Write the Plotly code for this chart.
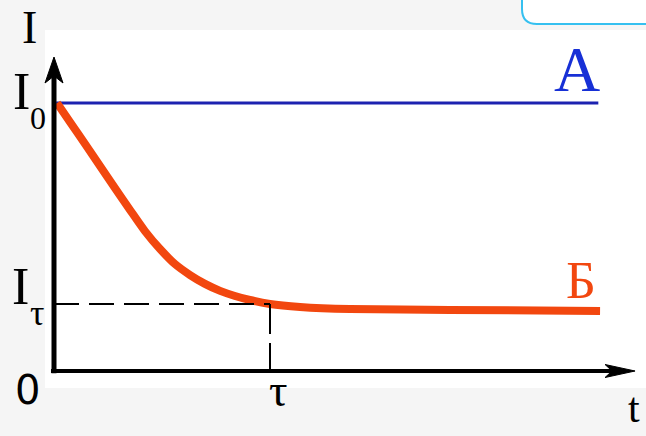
import plotly.graph_objects as go

# Current through the two circuit elements versus time (units of I0 and tau)
t_const = [0.01, 2.52]
i_const = [1.0, 1.0]

t_decay = [0.014, 0.074, 0.144, 0.213, 0.282, 0.352, 0.421, 0.491, 0.560, 0.630,
           0.699, 0.769, 0.838, 0.907, 1.000, 1.139, 1.370, 1.833, 2.528]
i_decay = [1.000, 0.929, 0.847, 0.765, 0.683, 0.601, 0.522, 0.455, 0.399, 0.358,
           0.325, 0.299, 0.280, 0.265, 0.250, 0.239, 0.231, 0.228, 0.224]

I0 = 1.0
TAU = 1.0
I_TAU = 0.25

# axis extents of the drawn arrows (data units)
T_MAX = 2.69
I_MAX = 1.1716

BLUE = "#1c22b0"
BLUE_TXT = "#1730d6"
RED = "#f2470f"
SERIF = "Liberation Serif, DejaVu Serif, serif"

fig = go.Figure()

fig.add_trace(go.Scatter(x=t_const, y=i_const, mode="lines",
                         line=dict(color=BLUE, width=3), hoverinfo="skip"))
fig.add_trace(go.Scatter(x=t_decay, y=i_decay, mode="lines",
                         line=dict(color=RED, width=8, shape="spline", smoothing=0.6),
                         hoverinfo="skip"))

shapes = []
# white drawing area
shapes.append(dict(type="rect", xref="paper", yref="paper",
                   x0=45 / 646, x1=1.0, y0=1 - 388 / 436, y1=1 - 30 / 436,
                   fillcolor="white", line=dict(width=0), layer="below"))
# rounded box in the top right corner
bx, by, rx, ry = 522 / 646, 1 - 24 / 436, 15 / 646, 15 / 436
shapes.append(dict(type="path", xref="paper", yref="paper",
                   path=(f"M {bx},1.05 L {bx},{by + ry} Q {bx},{by} {bx + rx},{by} "
                         f"L 1.05,{by} L 1.05,1.05 Z"),
                   fillcolor="white", line=dict(color="#35c0f0", width=2), layer="below"))
# axes
shapes.append(dict(type="line", xref="x", yref="y", x0=0, x1=0, y0=-0.008, y1=I_MAX - 0.07,
                   line=dict(color="black", width=5)))
shapes.append(dict(type="line", xref="x", yref="y", x0=-0.014, x1=T_MAX - 0.11, y0=0, y1=0,
                   line=dict(color="black", width=4)))
# arrowheads (pixel sized, anchored at the tips)
shapes.append(dict(type="path", xref="x", yref="y", xsizemode="pixel", ysizemode="pixel",
                   xanchor=0, yanchor=I_MAX,
                   path="M 0,0 L -9,-26 L 0,-19 L 9,-26 Z",
                   fillcolor="black", line=dict(color="black", width=1)))
shapes.append(dict(type="path", xref="x", yref="y", xsizemode="pixel", ysizemode="pixel",
                   xanchor=T_MAX, yanchor=0,
                   path="M 0,0 L -30,-6.5 L -23,0 L -30,6.5 Z",
                   fillcolor="black", line=dict(color="black", width=1)))
# guide lines to (tau, I_tau)
shapes.append(dict(type="line", xref="x", yref="y", x0=0, x1=TAU, y0=I_TAU, y1=I_TAU,
                   line=dict(color="black", width=2, dash="25px,10px")))
shapes.append(dict(type="line", xref="x", yref="y", x0=TAU, x1=TAU, y0=I_TAU, y1=0,
                   line=dict(color="black", width=2, dash="30px,9px")))


def label(text, x, y, size, color="black", family=SERIF, xshift=0, yshift=0):
    return dict(text=text, x=x, y=y, xref="x", yref="y", showarrow=False,
                xanchor="center", yanchor="middle", xshift=xshift, yshift=yshift,
                font=dict(family=family, size=size, color=color))


annotations = [
    label("I", 0, I_MAX, 46, xshift=-25, yshift=30),
    label("I", 0, I0, 52, xshift=-33, yshift=12),
    label("0", 0, I0, 32, xshift=-16, yshift=-15),
    label("I", 0, I_TAU, 52, xshift=-34, yshift=18),
    label("τ", 0, I_TAU, 36, xshift=-17, yshift=-9),
    label("0", 0, 0, 40, family="DejaVu Sans",
          xshift=-27, yshift=-19),
    label("τ", TAU, 0, 46, xshift=8, yshift=-19),
    label("t", T_MAX, 0, 42, xshift=-1, yshift=-37),
    label("A", t_const[-1], i_const[-1], 64, color=BLUE_TXT, xshift=-21, yshift=34),
    label("Б", t_decay[-1], i_decay[-1], 52, color=RED, xshift=-19, yshift=30),
]

fig.update_layout(
    width=646, height=436,
    margin=dict(l=0, r=0, t=0, b=0),
    paper_bgcolor="#f5f5f5",
    plot_bgcolor="rgba(0,0,0,0)",
    showlegend=False,
    xaxis=dict(range=[-0.25, 2.7407], visible=False, fixedrange=True),
    yaxis=dict(range=[-0.2425, 1.3843], visible=False, fixedrange=True),
    shapes=shapes,
    annotations=annotations,
)

fig.write_html("out.html")
